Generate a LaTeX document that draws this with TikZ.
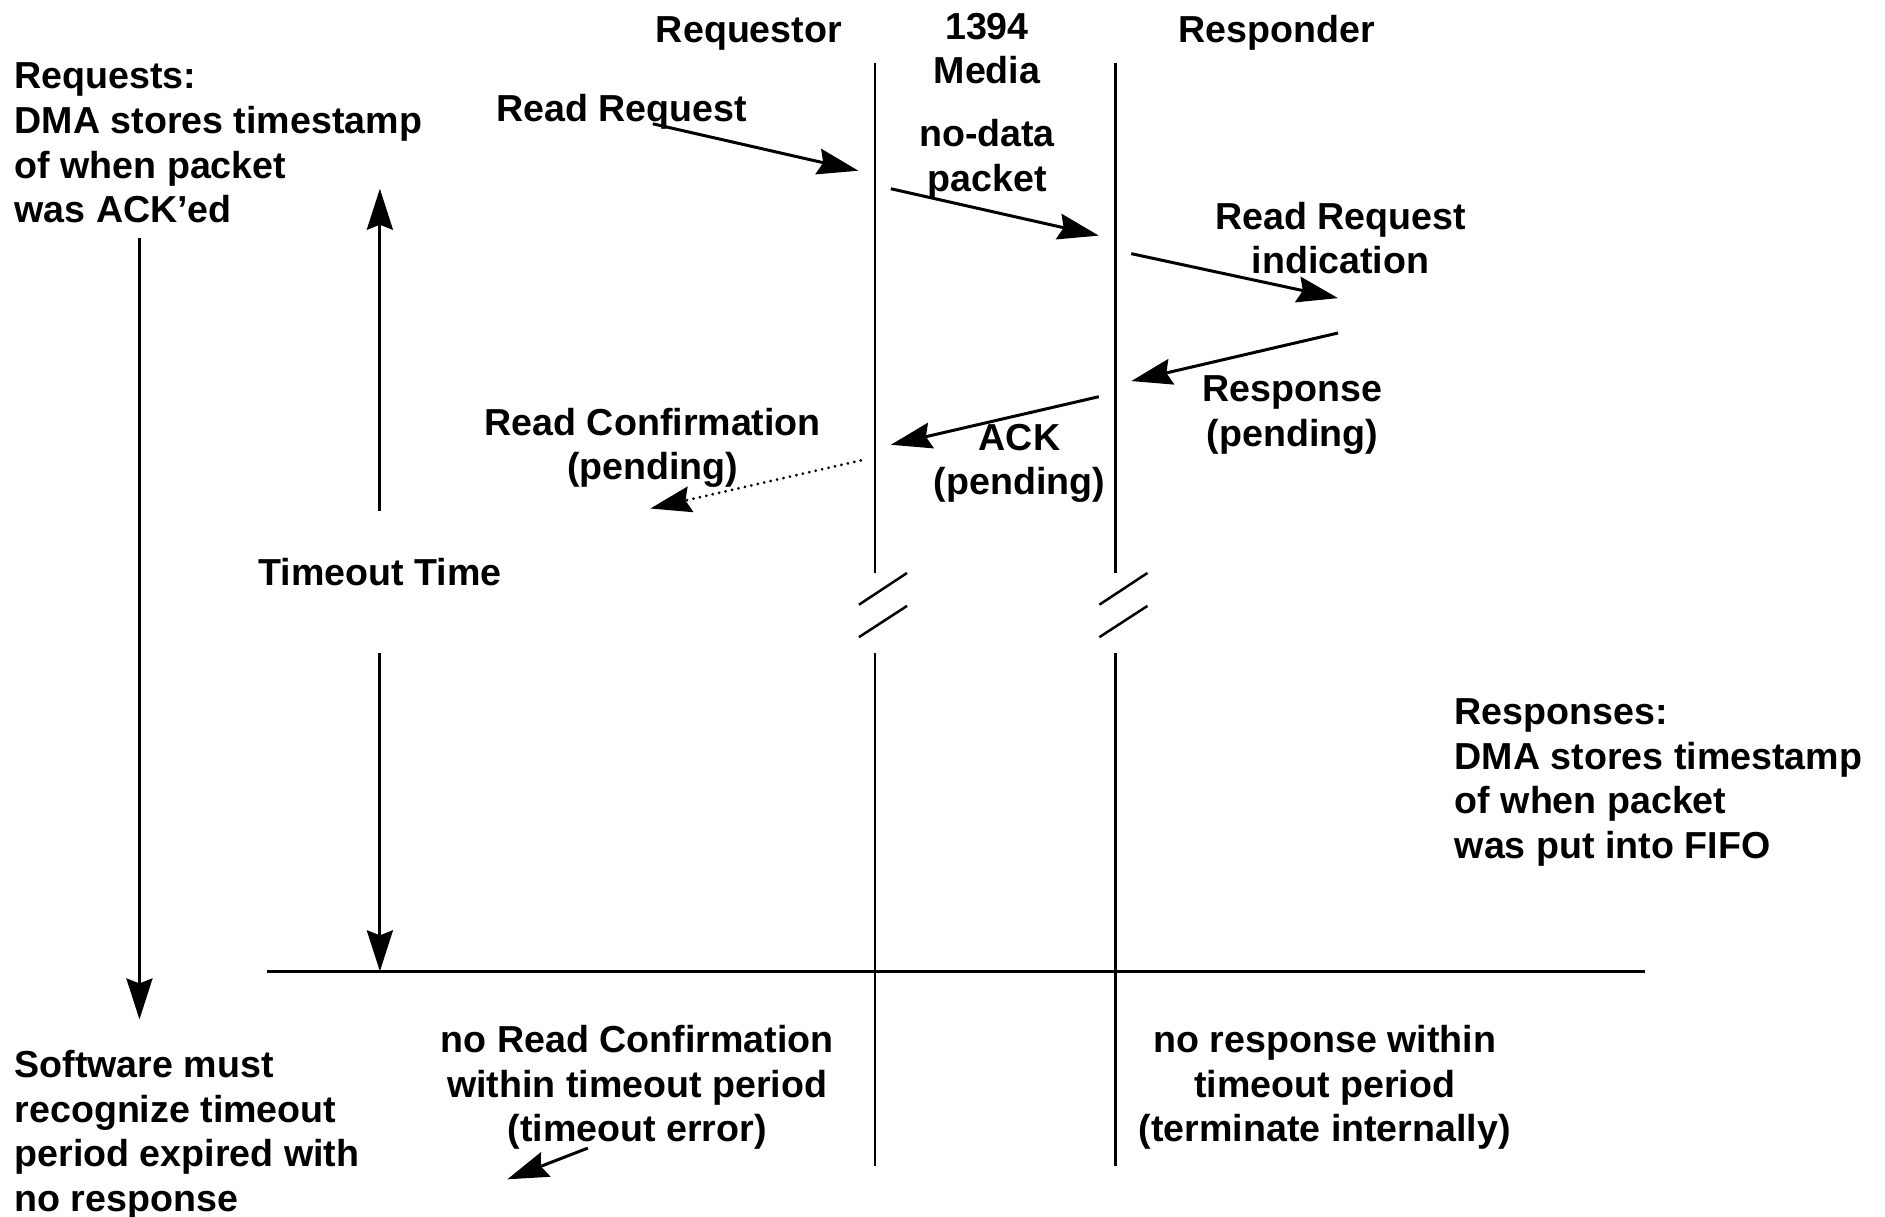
\documentclass[tikz,border=0pt]{standalone}
\usepackage{fontspec}
\setmainfont{Liberation Sans}
\usetikzlibrary{arrows.meta}
\begin{document}
\begin{tikzpicture}[x=1.2022pt,y=-1.2022pt,
  txt/.style={font=\bfseries\fontsize{37.6}{44.6}\selectfont, inner sep=0pt, align=center},
  ltxt/.style={txt, align=left, anchor=west},
  life/.style={line width=2.5pt},
  msg/.style={line width=3pt, -{Stealth[length=41pt,width=26pt,inset=5pt]}},
  dmsg/.style={msg, line cap=round, dash pattern=on 0.1pt off 6.5pt},
]
\useasboundingbox (0,0) rectangle (1568,1012.3);

% headers
\node[txt] (req) at (623,27.5) {Requestor};
\node[txt] (med) at (821,40.5) {1394\\Media};
\node[txt] (rsp) at (1062,27.5) {Responder};

% lifelines
\coordinate (rqT) at (728,52);
\coordinate (rqB1) at (728,477);
\coordinate (rqT2) at (728,543);
\coordinate (rqB) at (728,970);
\coordinate (rsT) at (928,52);
\coordinate (rsB1) at (928,477);
\coordinate (rsT2) at (928,543);
\coordinate (rsB) at (928,970);
\draw[life] (rqT) -- (rqB1);
\draw[life] (rqT2) -- (rqB);
\draw[life] (rsT) -- (rsB1);
\draw[life] (rsT2) -- (rsB);

% break marks
\coordinate (b1a) at (714.5,503); \coordinate (b1b) at (754.5,476.6);
\coordinate (b2a) at (714.5,530); \coordinate (b2b) at (754.5,504);
\coordinate (b3a) at (914.5,503); \coordinate (b3b) at (954.5,476.6);
\coordinate (b4a) at (914.5,530); \coordinate (b4b) at (954.5,504);
\draw[life] (b1a) -- (b1b);
\draw[life] (b2a) -- (b2b);
\draw[life] (b3a) -- (b3b);
\draw[life] (b4a) -- (b4b);

% horizontal line
\coordinate (hL) at (222,808);
\coordinate (hR) at (1368,808);
\draw[life] (hL) -- (hR);

% left notes
\node[ltxt] (reqnote) at (12,119) {Requests:\\DMA stores timestamp\\of when packet\\was ACK'ed};
\coordinate (swT) at (116,198);
\coordinate (swB) at (116,848);
\draw[msg] (swT) -- (swB);
\node[ltxt] (swnote) at (12,944) {Software must\\recognize timeout\\period expired with\\no response};

% timeout time
\node[txt] (tt) at (316,476) {Timeout Time};
\coordinate (ttU1) at (316,425); \coordinate (ttU2) at (316,157);
\coordinate (ttD1) at (316,543); \coordinate (ttD2) at (316,808);
\draw[msg] (ttU1) -- (ttU2);
\draw[msg] (ttD1) -- (ttD2);

% messages
\node[txt] (rr) at (517,93) {Read Request};
\coordinate (m1a) at (543,103); \coordinate (m1b) at (714,142);
\draw[msg] (m1a) -- (m1b);

\node[txt] (nd) at (821,132.5) {no-data\\packet};
\coordinate (m2a) at (741,157); \coordinate (m2b) at (914,196);
\draw[msg] (m2a) -- (m2b);

\node[txt] (rri) at (1115,198) {Read Request\\indication};
\coordinate (m3a) at (941,211); \coordinate (m3b) at (1113,248);
\draw[msg] (m3a) -- (m3b);

\node[txt] (rp) at (1075,345.5) {Response\\(pending)};
\coordinate (m4a) at (1113,277); \coordinate (m4b) at (941,317);
\draw[msg] (m4a) -- (m4b);

\node[txt] (ack) at (848,385.5) {ACK\\(pending)};
\coordinate (m5a) at (914,330); \coordinate (m5b) at (741,370);
\draw[msg] (m5a) -- (m5b);

\node[txt] (rc) at (543,372.5) {Read Confirmation\\(pending)};
\coordinate (m6a) at (716,383); \coordinate (m6b) at (541,423);
\draw[dmsg] (m6a) -- (m6b);

% responses note
\node[ltxt] (rspnote) at (1210,651) {Responses:\\DMA stores timestamp\\of when packet\\was put into FIFO};

% bottom texts
\node[txt] (noc) at (530,904.5) {no Read Confirmation\\within timeout period\\(timeout error)};
\node[txt] (nor) at (1102,904.5) {no response within\\timeout period\\(terminate internally)};
\coordinate (m7a) at (489,955); \coordinate (m7b) at (422,981);
\draw[msg] (m7a) -- (m7b);
\end{tikzpicture}
\end{document}
